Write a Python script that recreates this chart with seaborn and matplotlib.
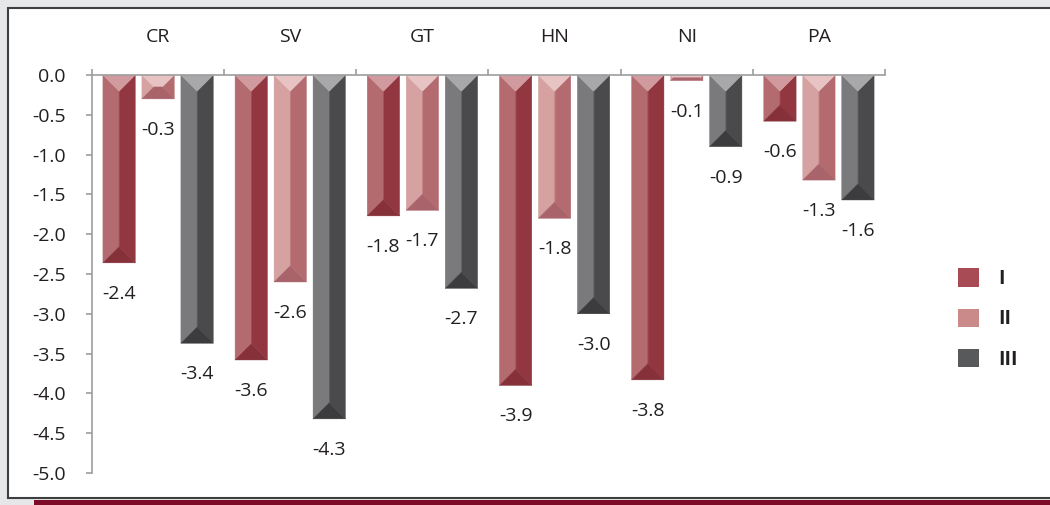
import matplotlib
matplotlib.use("Agg")
import matplotlib.pyplot as plt
from matplotlib.patches import Polygon, Rectangle, Patch
from matplotlib.ticker import FuncFormatter
import pandas as pd
import seaborn as sns

countries = ["CR", "SV", "GT", "HN", "NI", "PA"]
periods = ["I", "II", "III"]
values_I = [-2.36, -3.58, -1.77, -3.90, -3.83, -0.58]
values_II = [-0.30, -2.60, -1.70, -1.80, -0.07, -1.32]
values_III = [-3.37, -4.32, -2.68, -3.00, -0.90, -1.57]
y_ticks = [0.0, -0.5, -1.0, -1.5, -2.0, -2.5, -3.0, -3.5, -4.0, -4.5, -5.0]

# bevel face colours per series: top, left, right, bottom
faces = {
    "I": ("#d09a9e", "#b46b70", "#923640", "#86303a"),
    "II": ("#e7c3c3", "#d5a1a1", "#b46b70", "#a9636a"),
    "III": ("#a8a8aa", "#7a7a7c", "#4a4a4c", "#3c3c3e"),
}
legend_colors = {"I": "#a84b55", "II": "#cb8a8a", "III": "#58595b"}
text_color = "#231f20"
axis_color = "#9d9d9d"

series = {"I": values_I, "II": values_II, "III": values_III}
df = pd.DataFrame(
    [(c, p, v) for p in periods for c, v in zip(countries, series[p])],
    columns=["country", "period", "value"],
)

sns.set_theme(style="white")
plt.rcParams["font.family"] = ["Open Sans", "DejaVu Sans"]

W, H = 1050, 505
fig = plt.figure(figsize=(W / 100, H / 100), dpi=100)
fig.patch.set_facecolor("#e6e7e8")
# white framed panel and dark red band at the bottom
fig.add_artist(Rectangle((8 / W, 7 / H), 1.2, 490 / H, transform=fig.transFigure,
                         facecolor="white", edgecolor="#3f3f3f", lw=1.5, zorder=-10))
fig.add_artist(Rectangle((34 / W, 0), 1.2, 5 / H, transform=fig.transFigure,
                         facecolor="#7d0a26", edgecolor="none", zorder=-9))

ax_l, ax_t, ax_r, ax_b = 92, 75, 885, 473
ax = fig.add_axes([ax_l / W, 1 - ax_b / H, (ax_r - ax_l) / W, (ax_b - ax_t) / H])
ax.set_facecolor("none")

sns.barplot(data=df, x="country", y="value", hue="period", order=countries,
            hue_order=periods, palette=legend_colors, width=0.885, gap=0.17,
            saturation=1, legend=False, ax=ax)

ax.set_xlim(-0.5, len(countries) - 0.5)
ax.set_ylim(y_ticks[-1], y_ticks[0])

# pixels per data unit, for the bevelled look
sx = (ax_r - ax_l) / len(countries)
sy = (ax_b - ax_t) / (y_ticks[0] - y_ticks[-1])

for container, p in zip(ax.containers, periods):
    top_c, left_c, right_c, bot_c = faces[p]
    for bar, v in zip(container, series[p]):
        x0 = bar.get_x()
        w = bar.get_width()
        x1 = x0 + w
        yt = bar.get_y()
        yb = yt + bar.get_height()
        if yb > yt:
            yt, yb = yb, yt
        b = min(w * sx / 2, (yt - yb) * sy / 2)
        bx, by = b / sx, b / sy
        polys = [
            ([(x0, yt), (x0 + bx, yt - by), (x0 + bx, yb + by), (x0, yb)], left_c),
            ([(x1, yt), (x1 - bx, yt - by), (x1 - bx, yb + by), (x1, yb)], right_c),
            ([(x0 + bx, yt - by), (x1 - bx, yt - by), (x1 - bx, yb + by), (x0 + bx, yb + by)], left_c),
            ([(x0, yt), (x1, yt), (x1 - bx, yt - by), (x0 + bx, yt - by)], top_c),
            ([(x0, yb), (x1, yb), (x1 - bx, yb + by), (x0 + bx, yb + by)], bot_c),
        ]
        for pts, col in polys:
            ax.add_patch(Polygon(pts, closed=True, facecolor=col, edgecolor=col,
                                 lw=0.3, zorder=2))
        bar.set_visible(False)
        ax.annotate(f"{v:.1f}", ((x0 + x1) / 2, yb), xytext=(0, -31),
                    textcoords="offset pixels", ha="center", va="center",
                    fontsize=14, color=text_color)

# category names on top, group separators as small ticks
ax.set_xticks(range(len(countries)))
ax.set_xticklabels(countries)
ax.set_xticks([i - 0.5 for i in range(len(countries) + 1)], minor=True)
ax.tick_params(axis="x", which="both", top=True, bottom=False,
               labeltop=True, labelbottom=False, direction="out")
ax.tick_params(axis="x", which="major", length=0, pad=21, labelsize=14,
               labelcolor=text_color)
ax.tick_params(axis="x", which="minor", length=4, width=1.2, color=axis_color)

ax.set_yticks(y_ticks)
ax.yaxis.set_major_formatter(FuncFormatter(lambda v, pos: f"{abs(v):.1f}" if v == 0 else f"{v:.1f}"))
ax.tick_params(axis="y", left=True, length=4.5, width=1.2, color=axis_color,
               pad=14.5, labelsize=14, labelcolor=text_color)

ax.set_xlabel("")
ax.set_ylabel("")
for side in ["right", "bottom"]:
    ax.spines[side].set_visible(False)
for side in ["top", "left"]:
    ax.spines[side].set_color(axis_color)
    ax.spines[side].set_linewidth(1.2)

handles = [Patch(facecolor=legend_colors[p], edgecolor="none") for p in periods]
fig.legend(handles, periods, loc="center left", bbox_to_anchor=(958 / W, 1 - 319 / H),
           frameon=False, handlelength=1.08, handleheight=1.08, labelspacing=1.0,
           handletextpad=1.0, borderpad=0, borderaxespad=0,
           prop={"size": 14, "weight": "bold"}, labelcolor=text_color)

fig.savefig("out.png", dpi=100, facecolor=fig.get_facecolor())
